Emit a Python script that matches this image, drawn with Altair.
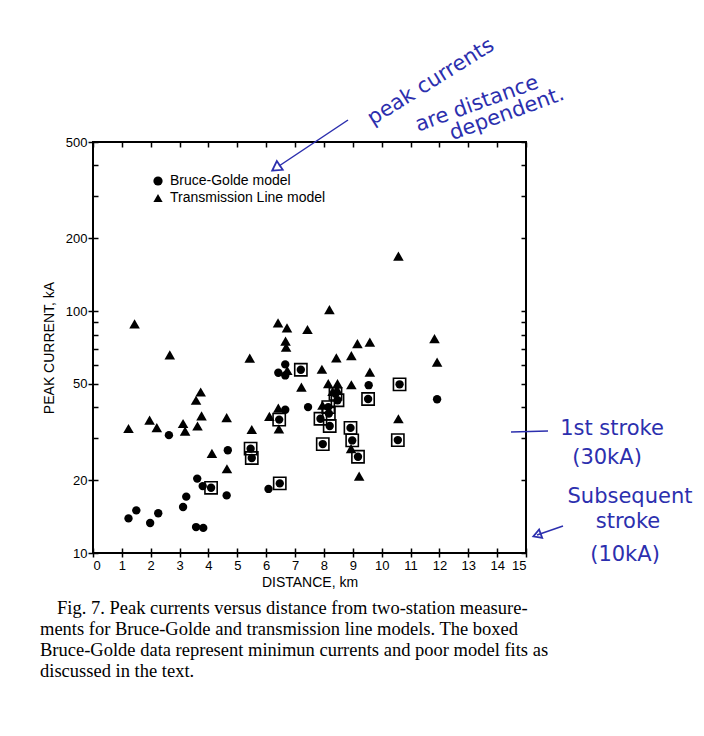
import altair as alt
import pandas as pd

# ---------------- data ----------------
tl_x = [1.44, 1.23, 1.96, 2.21, 2.66, 3.12, 3.19, 3.57, 3.73, 3.62, 3.76, 4.12, 4.63, 4.64,
        5.43, 5.50, 6.11, 6.41, 6.72, 6.67, 6.69, 6.42, 6.44, 6.73, 7.43, 7.22, 7.93, 8.19,
        8.15, 8.47, 8.43, 7.95, 8.95, 9.16, 9.59, 8.95, 9.59, 8.94, 9.22, 10.58, 10.58,
        11.83, 11.92, 8.30, 8.45]
tl_y = [88.5, 32.7, 35.4, 33.0, 65.9, 34.3, 31.9, 42.8, 46.3, 33.5, 36.9, 25.8, 36.3, 22.3,
        63.9, 32.4, 36.7, 89.4, 85.2, 75.1, 70.9, 39.7, 32.6, 56.8, 83.9, 48.5, 57.5, 101.4,
        50.1, 50.1, 64.1, 40.8, 65.5, 73.4, 74.4, 49.6, 55.9, 27.0, 20.8, 168.8, 35.9,
        77.0, 61.5, 46.5, 47.5]

bg_x = [1.23, 1.50, 1.98, 2.26, 2.63, 3.12, 3.23, 3.61, 3.80, 3.57, 3.82, 4.67, 4.63, 6.08,
        6.42, 6.66, 6.66, 6.66, 7.45, 9.55, 11.92]
bg_y = [13.9, 15.0, 13.3, 14.6, 30.7, 15.5, 17.1, 20.3, 18.9, 12.8, 12.7, 26.6, 17.3, 18.4,
        55.6, 60.2, 54.2, 39.1, 40.1, 49.4, 43.2]

box_x = [4.09, 5.46, 5.50, 6.45, 6.47, 7.20, 7.88, 8.15, 8.17, 8.20, 7.96, 8.47, 8.40, 8.92,
         8.98, 9.18, 9.53, 10.62, 10.56]
box_y = [18.6, 27.0, 24.7, 35.6, 19.4, 57.2, 35.9, 40.1, 37.7, 33.5, 28.2, 42.8, 45.5, 32.9,
         29.2, 25.0, 43.3, 49.8, 29.3]

models = ["Bruce-Golde model", "Transmission Line model"]

x_ticks = list(range(0, 16))
y_major = [10, 20, 50, 100, 200, 500]
y_all = [10, 20, 30, 40, 50, 60, 70, 80, 90, 100, 200, 300, 400, 500]

caption_lines = [
    "Fig. 7.  Peak currents versus distance from two-station measure-",
    "ments for Bruce-Golde and transmission line models. The boxed",
    "Bruce-Golde data represent minimun currents and poor model fits as",
    "discussed in the text.",
]

# ---------------- tables ----------------
tl_df = pd.DataFrame({"dist": tl_x, "cur": tl_y, "model": [models[1]] * len(tl_x)})
bg_df = pd.DataFrame({"dist": bg_x + box_x, "cur": bg_y + box_y,
                      "model": [models[0]] * (len(bg_x) + len(box_x))})
boxes = pd.DataFrame({"dist": box_x, "cur": box_y})

FONT = "Liberation Sans"
BLUE = "#2c2fae"

xs = alt.Scale(domain=[0, 15], nice=False, zero=False)
ys = alt.Scale(type="log", domain=[10, 500], nice=False)

shape_enc = alt.Shape(
    "model:N", scale=alt.Scale(domain=models, range=["circle", "triangle-up"]),
    legend=alt.Legend(orient="none", legendX=58, legendY=32, title=None,
                      symbolSize=85, symbolFillColor="black",
                      symbolStrokeColor="black", labelFontSize=14,
                      labelFont=FONT, labelOffset=5, rowPadding=2,
                      padding=0, labelColor="black"))

# triangles + outer axes with labels
tri = alt.Chart(tl_df).mark_point(filled=True, opacity=1, color="black", size=112).encode(
    x=alt.X("dist:Q", scale=xs, axis=alt.Axis(
        values=x_ticks, tickSize=4, labelPadding=2, domain=False, grid=False,
        title="DISTANCE, km", titlePadding=3, labelFontSize=13, titleFontSize=14)),
    y=alt.Y("cur:Q", scale=ys, axis=alt.Axis(
        values=y_major, format="d", tickSize=5, labelPadding=1, domain=False, grid=False,
        title="PEAK CURRENT, kA", titlePadding=9, labelFontSize=13, titleFontSize=14)),
    shape=shape_enc,
)

# circles (Bruce-Golde)
circ = alt.Chart(bg_df).mark_point(filled=True, opacity=1, color="black", size=70).encode(
    x=alt.X("dist:Q", scale=xs, axis=None),
    y=alt.Y("cur:Q", scale=ys, axis=None),
    shape=shape_enc,
)

# boxes around Bruce-Golde points + inward ticks bottom/left
box_layer = alt.Chart(boxes).mark_point(shape="square", filled=False, size=150, color="black",
                                        strokeWidth=1.6, opacity=1).encode(
    x=alt.X("dist:Q", scale=xs, axis=alt.Axis(
        orient="bottom", offset=-5, values=x_ticks, tickSize=5, labels=False,
        domain=False, grid=False, title=None)),
    y=alt.Y("cur:Q", scale=ys, axis=alt.Axis(
        orient="left", offset=-5, values=y_all, tickSize=5, labels=False,
        domain=False, grid=False, title=None)),
)

# invisible layer carrying inward ticks on top/right
frame_ticks = alt.Chart(boxes).mark_point(opacity=0).encode(
    x=alt.X("dist:Q", scale=xs, axis=alt.Axis(
        orient="top", offset=-5, values=x_ticks, tickSize=5, labels=False,
        domain=False, grid=False, title=None)),
    y=alt.Y("cur:Q", scale=ys, axis=alt.Axis(
        orient="right", offset=-5, values=y_all, tickSize=5, labels=False,
        domain=False, grid=False, title=None)),
)

# caption
caption_layers = []
cap_y = [466, 487, 508, 529]
cap_x = [-36, -53, -53, -53]
for line, yy, xx in zip(caption_lines, cap_y, cap_x):
    caption_layers.append(
        alt.Chart(pd.DataFrame({"t": [line]})).mark_text(
            font="Liberation Serif", fontSize=18.5, align="left", baseline="middle",
            color="black").encode(text="t:N", x=alt.value(xx), y=alt.value(yy))
    )

# handwritten annotations
notes = [
    ("peak currents", 338, -60, 328),
    ("are distance", 384, -38, 340),
    ("dependent.", 414, -28, 340),
    ("1st stroke", 519, 287, 0),
    ("(30kA)", 514, 316, 0),
    ("Subsequent", 537, 355, 0),
    ("stroke", 535, 380, 0),
    ("(10kA)", 532, 413, 0),
]
note_layers = []
for t, xx, yy, ang in notes:
    note_layers.append(
        alt.Chart(pd.DataFrame({"t": [t]})).mark_text(
            font="DejaVu Sans", fontSize=21, color=BLUE, angle=ang,
            align="center", baseline="middle").encode(
            text="t:N", x=alt.value(xx), y=alt.value(yy))
    )

rules = []
for x1, y1, x2, y2 in [(255, -22, 186, 24), (418, 290, 455, 289), (470, 384, 444, 393)]:
    rules.append(
        alt.Chart(pd.DataFrame({"a": [0]})).mark_rule(color=BLUE, strokeWidth=1.5).encode(
            x=alt.value(x1), y=alt.value(y1), x2=alt.value(x2), y2=alt.value(y2))
    )
heads = [
    alt.Chart(pd.DataFrame({"a": [0]})).mark_point(shape="triangle-up", filled=False, size=110,
                                                   color=BLUE, strokeWidth=1.8, opacity=1,
                                                   angle=236).encode(
        x=alt.value(183), y=alt.value(26)),
    alt.Chart(pd.DataFrame({"a": [0]})).mark_point(shape="triangle-up", filled=False, size=80,
                                                   color=BLUE, strokeWidth=1.8, opacity=1,
                                                   angle=250).encode(
        x=alt.value(444), y=alt.value(393)),
]

chart = alt.layer(tri, circ, box_layer, frame_ticks, *caption_layers, *note_layers, *rules, *heads).resolve_scale(
    x="independent", y="independent"
).properties(
    width=433, height=411,
    background="white",
    autosize=alt.AutoSizeParams(type="none"),
    padding={"left": 85, "top": 134, "right": 170, "bottom": 175},
).configure_view(
    stroke="black", strokeWidth=2
).configure_axis(
    tickColor="black", tickWidth=1.5, labelColor="black", titleColor="black",
    labelFont=FONT, titleFont=FONT, titleFontWeight="normal"
)

chart.save("out.html", embed_options={"renderer": "svg", "actions": False})
